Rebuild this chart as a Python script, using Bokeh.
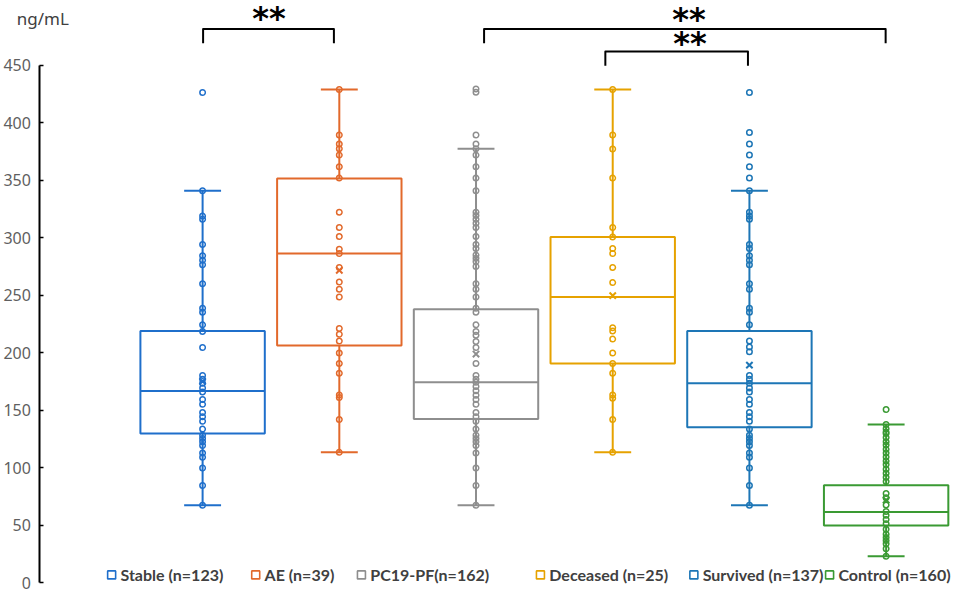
from bokeh.plotting import figure
from bokeh.models import Range1d, FixedTicker, Label
from bokeh.embed import file_html
from bokeh.resources import INLINE

# ---------------- data ----------------
groups = ["Stable (n=123)", "AE  (n=39)", "PC19-PF(n=162)",
          "Deceased (n=25)", "Survived (n=137)", "Control (n=160)"]
colors = ["#1F6FCB", "#E2692B", "#8E8E8E", "#E6A200", "#1D76B6", "#3A9A33"]

q1 = [129.7, 206.2, 142.4, 190.7, 135.3, 49.9]
median = [166.7, 286.2, 174.3, 248.5, 173.5, 61.5]
q3 = [218.9, 351.4, 237.7, 300.6, 218.8, 84.9]
whisker_low = [67.4, 113.4, 67.4, 113.4, 67.4, 23.1]
whisker_high = [340.7, 428.7, 377.3, 428.7, 340.7, 137.6]
mean = [175.1, 271.6, 198.8, 249.6, 189.2, 71.9]

stable_pts = [426.1, 340.7, 318.7, 315.9, 294.1, 284.3, 280.3, 276.4, 260.0, 238.6,
              235.2, 224.2, 218.5, 204.5, 180.2, 176.9, 173.5, 169.3, 165.9, 159.3,
              155.1, 148.0, 144.4, 140.4, 133.6, 128.3, 125.5, 122.7, 119.3, 112.8,
              109.1, 99.8, 84.6, 67.4]
ae_pts = [428.7, 389.2, 381.3, 377.3, 371.7, 361.6, 351.7, 322.1, 308.8, 300.9,
          289.9, 286.2, 274.1, 261.4, 255.2, 248.4, 221.1, 216.0, 210.1, 199.7,
          190.7, 182.2, 163.3, 161.1, 141.9, 113.4]
pc19_pts = [429.2, 426.4, 389.2, 381.3, 377.3, 371.7, 361.6, 351.7, 340.7, 322.1,
            319.3, 315.9, 312.5, 308.8, 300.9, 294.1, 290.5, 284.8, 282.0, 279.2,
            274.9, 260.0, 255.2, 248.4, 238.6, 235.2, 224.2, 218.5, 215.2, 209.8,
            204.5, 190.7, 180.2, 176.9, 174.3, 170.7, 167.0, 163.1, 159.3, 155.1,
            148.0, 144.4, 140.4, 133.6, 128.3, 125.5, 122.7, 119.3, 112.8, 99.8,
            84.6, 67.4]
deceased_pts = [428.7, 389.2, 377.0, 351.7, 308.8, 300.6, 290.5, 286.2, 274.1, 260.9,
                221.7, 218.9, 211.8, 199.7, 190.7, 182.2, 163.3, 160.5, 141.9, 113.4]
survived_pts = [426.1, 391.4, 381.3, 371.7, 361.6, 351.7, 340.7, 322.1, 318.7, 315.9,
                294.1, 290.5, 284.3, 280.3, 276.4, 260.0, 255.2, 238.6, 235.2, 224.2,
                210.1, 205.0, 200.8, 180.2, 176.9, 173.5, 169.3, 165.9, 159.3, 155.1,
                148.0, 144.4, 140.4, 133.6, 128.3, 125.5, 122.7, 119.3, 112.8, 109.1,
                99.8, 84.6, 67.4]
control_pts = [150.6, 137.6, 134.0, 131.0, 129.7, 126.3, 122.7, 119.9, 116.0, 112.8,
               109.4, 105.8, 102.9, 98.7, 95.3, 91.7, 88.0, 77.6, 73.9, 67.7,
               62.0, 58.7, 55.0, 51.3, 46.5, 42.3, 39.5, 36.7, 33.9, 29.6, 23.1]
points = [stable_pts, ae_pts, pc19_pts, deceased_pts, survived_pts, control_pts]

y_ticks = [0, 50, 100, 150, 200, 250, 300, 350, 400, 450]
unit_label = "ng/mL"
sig_label = "**"
sig_pairs = [(0, 1), (2, 5), (3, 4)]   # compared groups (index pairs)

# ---------------- geometry (reference pixels -> canvas pixels) ----------------
W, H = 953, 590
SX, SY = W / 969.0, H / 606.0


def cx(rx):
    return rx * SX


def cy(ry):
    return ry * SY


X_C1, X_STEP = cx(205.5), 139.0 * SX      # canvas x of first category centre, spacing
Y0, PPU = cy(600.0) - 1.8, 1.182 * SY     # canvas y of value 0, px per unit


def mx(rx):
    return 1 + (cx(rx) - X_C1) / X_STEP


def my(ry):
    return (Y0 - cy(ry)) / PPU


BOX_HALF = 0.455
CAP_HALF = 0.135
x_pos = list(range(1, len(groups) + 1))

p = figure(width=W, height=H, output_backend="svg", toolbar_location=None,
           x_axis_location=None,
           x_range=Range1d(mx(0), mx(969)), y_range=Range1d((Y0 - H) / PPU, Y0 / PPU),
           min_border=0, min_border_left=0, outline_line_color=None,
           background_fill_color="white", border_fill_color="white")
p.grid.visible = False

yax = p.yaxis[0]
yax.fixed_location = mx(40)
yax.ticker = FixedTicker(ticks=y_ticks)
yax.bounds = (0, 450)
yax.axis_line_color = "black"
yax.axis_line_width = 2
yax.major_tick_line_color = "black"
yax.major_tick_line_width = 1.5
yax.major_tick_in = 4
yax.major_tick_out = 0
yax.minor_tick_line_color = None
yax.major_label_text_font = "Noto Sans"
yax.major_label_text_font_size = "16px"
yax.major_label_text_color = "#5f5f5f"
yax.major_label_standoff = 9

for i, c in enumerate(colors):
    x = x_pos[i]
    p.segment(x0=[x, x], y0=[q3[i], q1[i]], x1=[x, x], y1=[whisker_high[i], whisker_low[i]],
              line_color=c, line_width=2)
    p.segment(x0=[x - CAP_HALF] * 2, y0=[whisker_high[i], whisker_low[i]],
              x1=[x + CAP_HALF] * 2, y1=[whisker_high[i], whisker_low[i]],
              line_color=c, line_width=2)
    p.quad(left=[x - BOX_HALF], right=[x + BOX_HALF], bottom=[q1[i]], top=[q3[i]],
           fill_color=None, line_color=c, line_width=2)
    p.segment(x0=[x - BOX_HALF], y0=[median[i]], x1=[x + BOX_HALF], y1=[median[i]],
              line_color=c, line_width=2)
    pts = points[i]
    p.scatter(x=[x] * len(pts), y=pts, marker="circle", size=5.5, fill_color=None,
              line_color=c, line_width=1.5)
    p.scatter(x=[x], y=[mean[i]], marker="x", size=9, line_color=c, line_width=2)

# ---------------- significance brackets ----------------
# (left, right, top, bottom of bracket; star centre x, y) in reference pixels
br_geom = [
    (206, 339, 29.3, 44, 273, 14),
    (491.7, 900, 29.3, 44, 700, 15),
    (615, 760, 52.3, 67, 701, 39.5),
]
STAR_PX = 32
for (a, b), (lx, rx, ty, by, sxp, syp) in zip(sig_pairs, br_geom):
    p.line(x=[mx(lx), mx(lx), mx(rx), mx(rx)], y=[my(by), my(ty), my(ty), my(by)],
           line_color="black", line_width=2, line_join="round")
    base_py = cy(syp) + 4
    p.add_layout(Label(x=mx(sxp), y=(Y0 - base_py) / PPU, text=sig_label,
                       text_align="center", text_baseline="alphabetic",
                       text_font="DejaVu Sans", text_font_style="bold",
                       text_font_size=f"{STAR_PX}px", text_color="black"))

p.add_layout(Label(x=mx(43), y=my(18), text=unit_label, text_align="center",
                   text_baseline="middle", text_font="Noto Sans", text_font_size="17px",
                   text_color="#404040"))

# ---------------- legend ----------------
leg_sq_px = [113, 259.5, 367, 549, 705, 843]
leg_py = 590
p.scatter(x=[mx(v) for v in leg_sq_px], y=[my(leg_py)] * len(leg_sq_px), marker="square",
          size=8, fill_color=None, line_color=colors, line_width=1.6)
for sq, name in zip(leg_sq_px, groups):
    p.add_layout(Label(x=mx(sq + 9), y=my(leg_py), text=name, text_align="left",
                       text_baseline="middle", text_font="Lato", text_font_style="bold",
                       text_font_size="16px", text_color="#404040"))

open("out.html", "w").write(file_html(p, INLINE))
